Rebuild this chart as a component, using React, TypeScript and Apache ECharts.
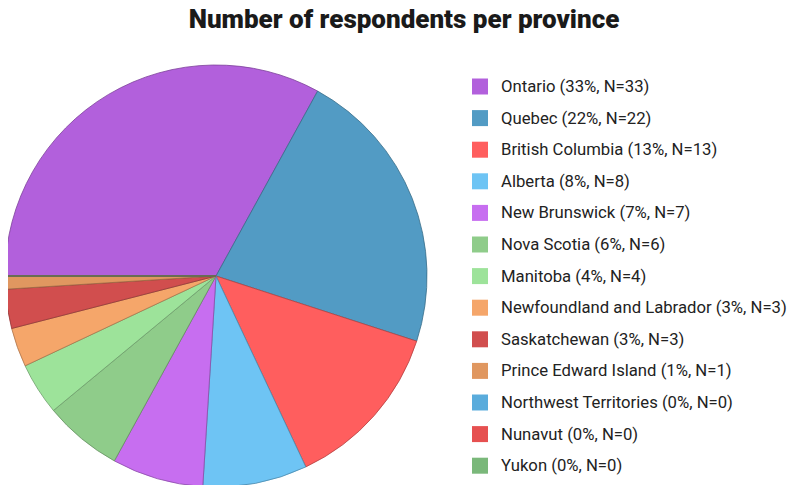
import React, { useEffect, useRef } from "react";
import * as echarts from "echarts";

const provinces = [
  "Ontario",
  "Quebec",
  "British Columbia",
  "Alberta",
  "New Brunswick",
  "Nova Scotia",
  "Manitoba",
  "Newfoundland and Labrador",
  "Saskatchewan",
  "Prince Edward Island",
  "Northwest Territories",
  "Nunavut",
  "Yukon",
];
const counts = [33, 22, 13, 8, 7, 6, 4, 3, 3, 1, 0, 0, 0];
const percents = [33, 22, 13, 8, 7, 6, 4, 3, 3, 1, 0, 0, 0];
const colors = [
  "#B260DC",
  "#529BC4",
  "#FF5E5E",
  "#6EC4F4",
  "#C76EF0",
  "#8FCC8A",
  "#9DE39A",
  "#F5A66A",
  "#D14E4E",
  "#E09760",
  "#5AACDC",
  "#E65050",
  "#7AB87A",
];

function darken(hex: string, f: number) {
  const n = parseInt(hex.slice(1), 16);
  const r = Math.round(((n >> 16) & 255) * f);
  const g = Math.round(((n >> 8) & 255) * f);
  const b = Math.round((n & 255) * f);
  return `rgb(${r},${g},${b})`;
}

export default function App() {
  const ref = useRef<HTMLDivElement>(null);
  useEffect(() => {
    if (!ref.current) return;
    const chart = echarts.init(ref.current, undefined, { renderer: "svg" });
    const labelMap: Record<string, string> = {};
    provinces.forEach((p, i) => {
      labelMap[p] = `${p} (${percents[i]}%, N=${counts[i]})`;
    });
    chart.setOption({
      animation: false,
      textStyle: { fontFamily: "Roboto" },
      title: {
        text: "Number of respondents per province",
        left: 399,
        textAlign: "center",
        top: 1,
        textStyle: {
          fontFamily: "Roboto",
          fontSize: 26,
          fontWeight: 900,
          color: "#1a1a1a",
        },
      },
      legend: {
        orient: "vertical",
        left: 472,
        top: 78,
        height: 430,
        padding: 0,
        itemWidth: 16,
        itemHeight: 16,
        itemGap: 14.6,
        icon: "rect",
        data: provinces,
        formatter: (name: string) => labelMap[name],
        itemStyle: { borderWidth: 0 },
        textStyle: {
          fontFamily: "Roboto",
          fontSize: 16.7,
          lineHeight: 16,
          color: "#222",
          padding: [0, 0, 0, 8],
        },
        selectedMode: false,
      },
      series: [
        {
          type: "pie",
          center: [216, 276],
          radius: [0, 211],
          startAngle: 180,
          clockwise: true,
          label: { show: false },
          labelLine: { show: false },
          emphasis: { disabled: true },
          data: provinces.map((p, i) => ({
            name: p,
            value: counts[i],
            itemStyle: {
              color: colors[i],
              borderColor: darken(colors[i], 0.7),
              borderWidth: 0.8,
            },
          })),
        },
      ],
    });
    return () => chart.dispose();
  }, []);
  return <div ref={ref} style={{ width: 797, height: 493, margin: -8 }} />;
}
